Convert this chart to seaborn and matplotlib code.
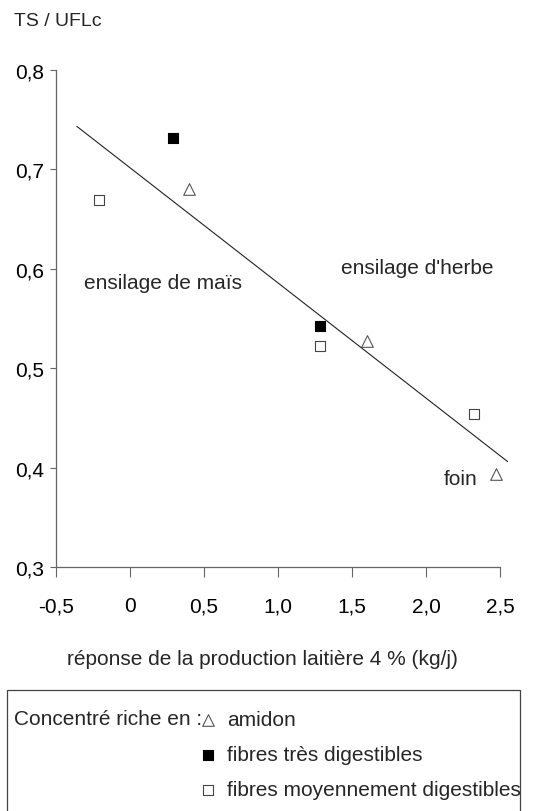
import numpy as np
import pandas as pd
import matplotlib
matplotlib.use("Agg")
import matplotlib.pyplot as plt
from matplotlib.patches import Rectangle
import seaborn as sns

# ---- data ----
amidon_x = [0.40, 1.60, 2.47]
amidon_y = [0.680, 0.527, 0.394]
tres_dig_x = [0.29, 1.28]
tres_dig_y = [0.732, 0.542]
moy_dig_x = [-0.21, 1.28, 2.32]
moy_dig_y = [0.669, 0.522, 0.454]
fit_range = [-0.36, 2.55]

group_labels = ["amidon", "fibres très digestibles", "fibres moyennement digestibles"]
x_ticks = [-0.5, 0, 0.5, 1.0, 1.5, 2.0, 2.5]
x_tick_labels = ["-0,5", "0", "0,5", "1,0", "1,5", "2,0", "2,5"]
y_ticks = [0.3, 0.4, 0.5, 0.6, 0.7, 0.8]
y_tick_labels = ["0,3", "0,4", "0,5", "0,6", "0,7", "0,8"]

FS = 15

sns.set_theme(style="white")
plt.rcParams["font.family"] = ["Liberation Sans", "DejaVu Sans"]

fig = plt.figure(figsize=(5.39, 8.12), dpi=100)
ax = fig.add_axes([56 / 539, 1 - 568 / 812, 459 / 539, 497 / 812])

df = pd.concat([
    pd.DataFrame({"x": amidon_x, "y": amidon_y, "g": group_labels[0]}),
    pd.DataFrame({"x": tres_dig_x, "y": tres_dig_y, "g": group_labels[1]}),
    pd.DataFrame({"x": moy_dig_x, "y": moy_dig_y, "g": group_labels[2]}),
])

# regression line across all points
coef = np.polyfit(df["x"], df["y"], 1)
lx = np.array(fit_range)
sns.lineplot(x=lx, y=np.polyval(coef, lx), ax=ax, color="#222222", lw=0.8)

sns.scatterplot(x=amidon_x, y=amidon_y, ax=ax, marker="^", s=70,
                facecolor="white", edgecolor="#555555", linewidth=0.8,
                label=group_labels[0])
sns.scatterplot(x=tres_dig_x, y=tres_dig_y, ax=ax, marker="s", s=60,
                color="black", edgecolor="black", linewidth=0.8,
                label=group_labels[1])
sns.scatterplot(x=moy_dig_x, y=moy_dig_y, ax=ax, marker="s", s=60,
                facecolor="white", edgecolor="#444444", linewidth=0.8,
                label=group_labels[2])

handles, labels = ax.get_legend_handles_labels()
ax.get_legend().remove()

ax.set_xlim(-0.5, 2.6)
ax.set_ylim(0.3, 0.8)
ax.set_xticks(x_ticks)
ax.set_xticklabels(x_tick_labels, fontsize=FS)
ax.set_yticks(y_ticks)
ax.set_yticklabels(y_tick_labels, fontsize=FS)

for s in ["top", "right"]:
    ax.spines[s].set_visible(False)
for s in ["left", "bottom"]:
    ax.spines[s].set_color("#666666")
    ax.spines[s].set_linewidth(0.9)
ax.spines["bottom"].set_bounds(-0.5, 2.5)

ax.tick_params(axis="x", direction="out", length=7, width=0.8, color="#666666",
               pad=14, bottom=True, labelcolor="black")
ax.tick_params(axis="y", direction="out", length=4.5, width=0.8, color="#666666",
               pad=4, left=True, labelcolor="black")

ax.text(0.22, 0.586, "ensilage de maïs", fontsize=FS, ha="center", va="center")
ax.text(1.94, 0.601, "ensilage d'herbe", fontsize=FS, ha="center", va="center")
ax.text(2.23, 0.389, "foin", fontsize=FS, ha="center", va="center")

fig.text(14 / 539, 1 - 22 / 812, "TS / UFLc", fontsize=14, ha="left", va="center")
ax.set_xlabel("réponse de la production laitière 4 % (kg/j)", fontsize=FS)
ax.xaxis.set_label_coords((262 - 56) / 459, (568 - 650) / 497)

# legend box
fig.patches.append(Rectangle((7 / 539, -0.05), 513 / 539, 0.05 + 1 - 691 / 812,
                             transform=fig.transFigure, fill=False,
                             edgecolor="#444444", lw=0.9))
fig.text(14 / 539, 1 - 720 / 812, "Concentré riche en :", fontsize=FS,
         ha="left", va="center")
fig.legend(handles, labels, loc="upper left",
           bbox_to_anchor=(200 / 539, 1 - 711 / 812), frameon=False,
           fontsize=FS, handlelength=0.8, handletextpad=0.5,
           labelspacing=0.78, borderpad=0, borderaxespad=0)

fig.savefig("out.png", dpi=100)
